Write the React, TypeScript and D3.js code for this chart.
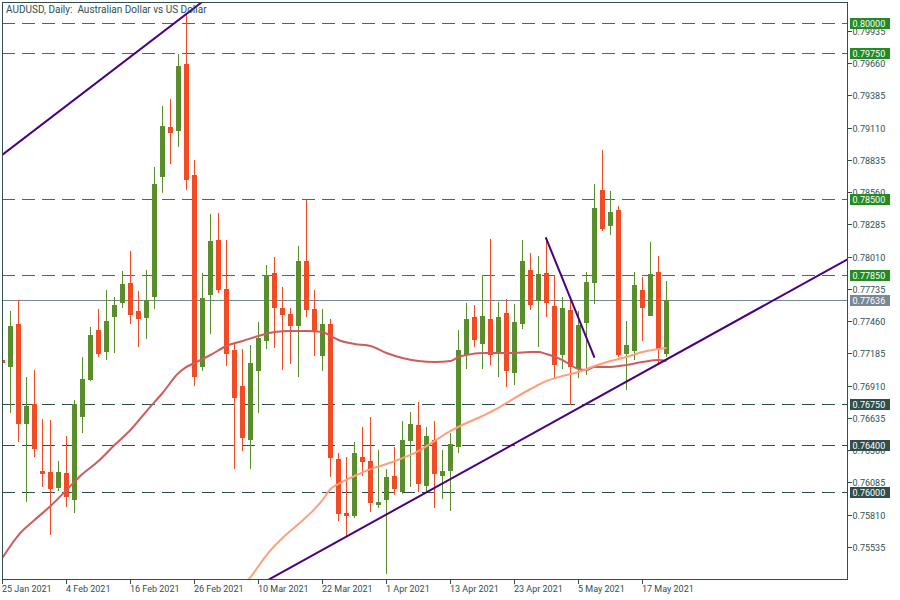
import React from "react";
import * as d3 from "d3";

// ---------- DATA ----------
const title = "AUDUSD, Daily:  Australian Dollar vs US Dollar";

// x tick labels, one every 8 daily bars starting at bar 0
const xTickLabels = [
  "25 Jan 2021", "4 Feb 2021", "16 Feb 2021", "26 Feb 2021", "10 Mar 2021", "22 Mar 2021",
  "1 Apr 2021", "13 Apr 2021", "23 Apr 2021", "5 May 2021", "17 May 2021",
];
const xTickEvery = 8;

const yTickValues = [
  0.75535, 0.7581, 0.76085, 0.7636, 0.76635, 0.7691, 0.77185, 0.7746, 0.77735,
  0.7801, 0.78285, 0.7856, 0.78835, 0.7911, 0.79385, 0.7966, 0.79935,
];

const open = [
  0.77128, 0.77069, 0.77435, 0.76582, 0.76753, 0.76181, 0.76173, 0.76036, 0.76164, 0.75934,
  0.76642, 0.76958, 0.77384, 0.77196, 0.77495, 0.77614, 0.77785, 0.77546, 0.77487, 0.77666,
  0.78689, 0.79116, 0.79082, 0.79653, 0.78706, 0.77069, 0.77683, 0.78152, 0.77734, 0.77214,
  0.76906, 0.76446, 0.77034, 0.7729, 0.7787, 0.77572, 0.77521, 0.77418, 0.77973, 0.77563,
  0.77162, 0.77435, 0.76284, 0.75823, 0.75798, 0.76301, 0.76267, 0.75891, 0.75934, 0.76139,
  0.76002, 0.76437, 0.76574, 0.76053, 0.76446, 0.76139, 0.76181, 0.76386, 0.77171, 0.77495,
  0.77265, 0.77478, 0.77196, 0.77529, 0.77017, 0.77435, 0.77896, 0.77632, 0.7787, 0.77589,
  0.77171, 0.77555, 0.77051, 0.77444, 0.77785, 0.78578, 0.78271, 0.78408, 0.77179, 0.77205,
  0.77725, 0.77504, 0.77879, 0.77179,
];
const high = [
  0.77137, 0.77546, 0.7764, 0.76983, 0.77043, 0.76625, 0.76616, 0.76267, 0.7648, 0.76787,
  0.77154, 0.7741, 0.77563, 0.77725, 0.77666, 0.77887, 0.78058, 0.77717, 0.77896, 0.78775,
  0.79295, 0.79355, 0.79738, 0.80088, 0.78834, 0.7787, 0.78374, 0.78382, 0.78152, 0.77282,
  0.77222, 0.77256, 0.77452, 0.77939, 0.78007, 0.77751, 0.77572, 0.78101, 0.78502, 0.77725,
  0.77563, 0.77478, 0.76335, 0.76301, 0.76429, 0.76557, 0.76642, 0.76361, 0.76198, 0.76386,
  0.76608, 0.76685, 0.7677, 0.76557, 0.76608, 0.76361, 0.76506, 0.77384, 0.77614, 0.77597,
  0.77853, 0.7816, 0.77623, 0.77649, 0.77606, 0.78152, 0.78041, 0.78015, 0.78177, 0.77853,
  0.77666, 0.7764, 0.77546, 0.77879, 0.7863, 0.7892, 0.7857, 0.78442, 0.77461, 0.77879,
  0.77836, 0.78135, 0.78015, 0.77802,
];
const low = [
  0.77094, 0.76676, 0.76429, 0.75917, 0.76301, 0.76045, 0.75635, 0.76011, 0.75874, 0.75823,
  0.76506, 0.76949, 0.77154, 0.77128, 0.77188, 0.77572, 0.77435, 0.77239, 0.77307, 0.77563,
  0.78553, 0.788, 0.78945, 0.78578, 0.76906, 0.77034, 0.7735, 0.777, 0.77077, 0.76198,
  0.76352, 0.76198, 0.76676, 0.77222, 0.77231, 0.77043, 0.77094, 0.76983, 0.77495, 0.77162,
  0.77034, 0.7613, 0.75755, 0.75618, 0.75781, 0.76139, 0.75832, 0.75866, 0.75303, 0.75977,
  0.75985, 0.76045, 0.76002, 0.75994, 0.75866, 0.75943, 0.7584, 0.76335, 0.77051, 0.77239,
  0.77051, 0.77086, 0.76983, 0.76898, 0.76915, 0.77393, 0.77555, 0.77239, 0.77495, 0.76975,
  0.77051, 0.76744, 0.76975, 0.77, 0.77606, 0.78229, 0.78194, 0.77154, 0.76872, 0.77128,
  0.7729, 0.775, 0.77103, 0.77154,
];
const close = [
  0.77103, 0.77418, 0.76582, 0.76736, 0.76369, 0.76156, 0.76028, 0.76173, 0.7596, 0.76753,
  0.76966, 0.77341, 0.77179, 0.77461, 0.77597, 0.77776, 0.77512, 0.77478, 0.7764, 0.7863,
  0.79124, 0.79065, 0.79636, 0.78664, 0.76983, 0.77657, 0.78143, 0.77725, 0.77179, 0.76804,
  0.76463, 0.77103, 0.77316, 0.77853, 0.77572, 0.77512, 0.77418, 0.77973, 0.77555, 0.77367,
  0.77435, 0.76292, 0.75815, 0.75798, 0.76335, 0.76258, 0.75908, 0.75917, 0.7613, 0.76028,
  0.76446, 0.76582, 0.76071, 0.7648, 0.76156, 0.76181, 0.76412, 0.77214, 0.77478, 0.77299,
  0.77504, 0.77171, 0.77495, 0.77034, 0.77452, 0.77973, 0.77597, 0.77862, 0.77614, 0.77086,
  0.77572, 0.77069, 0.77427, 0.77794, 0.78425, 0.78246, 0.78391, 0.77171, 0.77256, 0.77768,
  0.77572, 0.77862, 0.77222, 0.77636,
];

// moving averages (bar index, value)
const ma1Index = [0, 2, 4, 6, 8, 10, 12, 14, 16, 18, 20, 22, 23, 24, 26, 28, 30, 32, 34, 36, 38, 40, 41, 42, 44, 46, 48, 50, 52, 54, 56, 57, 58, 60, 62, 64, 66, 67, 68, 70, 72, 73, 74, 76, 78, 80, 82, 83];
const ma1Values = [
  0.75442, 0.75635, 0.75763, 0.75883, 0.76019, 0.76156, 0.76267, 0.76403, 0.76531, 0.76693,
  0.76847, 0.77017, 0.77069, 0.77103, 0.77171, 0.77248, 0.7729, 0.77333, 0.77367, 0.77376,
  0.77376, 0.77367, 0.77333, 0.77299, 0.77265, 0.77248, 0.77188, 0.77145, 0.7712, 0.77111,
  0.7712, 0.77154, 0.77171, 0.77188, 0.77188, 0.77188, 0.77196, 0.77196, 0.77179, 0.77128,
  0.77051, 0.77043, 0.77069, 0.77069, 0.77086, 0.77111, 0.77128, 0.7712,
];
const ma2Index = [30, 31, 33, 35, 37, 39, 40, 41, 42, 44, 46, 48, 50, 52, 54, 56, 58, 60, 62, 64, 66, 68, 70, 72, 74, 76, 78, 80, 82, 83];
const ma2Values = [
  0.752, 0.75277, 0.75465, 0.7561, 0.75729, 0.75857, 0.75934, 0.76028, 0.76071, 0.76139,
  0.76198, 0.76241, 0.76292, 0.76352, 0.76437, 0.76523, 0.76591, 0.76651, 0.76719, 0.76804,
  0.76881, 0.76949, 0.76992, 0.77026, 0.77077, 0.7712, 0.77154, 0.77196, 0.77222, 0.77231,
];

// trend lines: [barIndex, price] anchors
const trendUpperIdx = [0, 26];
const trendUpperPrice = [0.78879, 0.80237];
const trendSupportIdx = [33, 83]; // ray, extended to the right
const trendSupportPrice = [0.75245, 0.77133];
const trendShortIdx = [67.9, 74];
const trendShortPrice = [0.78175, 0.77149];

// horizontal levels
const greenLevels = [0.8, 0.7975, 0.785, 0.7785];
const darkLevels = [0.7675, 0.764, 0.76];
const bidPrice = 0.77636;

// ---------- STYLE ----------
const W = 900;
const H = 600;
const L = 2;
const R = 847;
const T = 2;
const B = 579;
const frameColor = "#2F4F4F";
const bull = "#5A8E2D";
const bear = "#F24B23";
const font = "Roboto, 'DejaVu Sans', sans-serif";

export default function App() {
  const x = d3.scaleLinear().domain([0, 1]).range([2.5, 10.5]);
  const y = d3.scaleLinear().domain([0.76, 0.8]).range([492.3, 23.3]);
  const crisp = (v: number) => Math.round(v) + 0.5;

  const line = d3
    .line<[number, number]>()
    .x((d) => x(d[0]))
    .y((d) => y(d[1]))
    .curve(d3.curveMonotoneX);
  const straight = d3
    .line<[number, number]>()
    .x((d) => x(d[0]))
    .y((d) => y(d[1]));

  const ma1Path = line(ma1Index.map((d, i) => [d, ma1Values[i]] as [number, number])) || "";
  const ma2Path = line(ma2Index.map((d, i) => [d, ma2Values[i]] as [number, number])) || "";

  const slope = (trendSupportPrice[1] - trendSupportPrice[0]) / (trendSupportIdx[1] - trendSupportIdx[0]);
  const endIdx = x.invert(R + 5);
  const supportPts: [number, number][] = [
    [trendSupportIdx[0], trendSupportPrice[0]],
    [endIdx, trendSupportPrice[0] + slope * (endIdx - trendSupportIdx[0])],
  ];
  const upperPts: [number, number][] = trendUpperIdx.map((d, i) => [d, trendUpperPrice[i]]);
  const shortPts: [number, number][] = trendShortIdx.map((d, i) => [d, trendShortPrice[i]]);

  const labelBox = (v: number, fill: string, key: string) => {
    const cy = y(v);
    return (
      <g key={key}>
        <rect x={850} y={Math.round(cy) - 5} width={40} height={11} fill={fill} />
        <text x={852.5} y={Math.round(cy) + 3.5} fill="#FFFFFF" fontSize={9} fontFamily={font}>
          {v.toFixed(5)}
        </text>
      </g>
    );
  };

  return (
    <svg
      width={W}
      height={H}
      viewBox={`0 0 ${W} ${H}`}
      style={{ position: "absolute", left: 0, top: 0, display: "block", background: "#FFFFFF" }}
    >
      <defs>
        <clipPath id="plotClip">
          <rect x={L} y={T} width={R - L} height={B - T} />
        </clipPath>
      </defs>
      <rect x={0} y={0} width={W} height={H} fill="#FFFFFF" />

      <g clipPath="url(#plotClip)">
        {/* horizontal levels */}
        {greenLevels.map((v, i) => (
          <line
            key={"g" + i}
            x1={L}
            x2={R}
            y1={crisp(y(v))}
            y2={crisp(y(v))}
            stroke="#228B22"
            strokeWidth={1}
            strokeDasharray="13,7"
            shapeRendering="crispEdges"
          />
        ))}
        {darkLevels.map((v, i) => (
          <line
            key={"d" + i}
            x1={L}
            x2={R}
            y1={crisp(y(v))}
            y2={crisp(y(v))}
            stroke="#2F4F4F"
            strokeWidth={1}
            strokeDasharray="13,7"
            shapeRendering="crispEdges"
          />
        ))}
        <line
          x1={L}
          x2={R}
          y1={crisp(y(bidPrice))}
          y2={crisp(y(bidPrice))}
          stroke="#778899"
          strokeWidth={1}
          shapeRendering="crispEdges"
        />

        {/* candles */}
        {open.map((o, i) => {
          const c = close[i];
          const up = c >= o;
          const col = up ? bull : bear;
          const cx = x(i);
          const top = Math.round(y(Math.max(o, c)));
          const bot = Math.round(y(Math.min(o, c)));
          return (
            <g key={"c" + i}>
              <line
                x1={cx}
                x2={cx}
                y1={Math.round(y(high[i]))}
                y2={Math.round(y(low[i]))}
                stroke={col}
                strokeWidth={1}
                shapeRendering="crispEdges"
              />
              <rect
                x={cx - 2.5}
                y={top}
                width={5}
                height={Math.max(2, bot - top)}
                fill={col}
                shapeRendering="crispEdges"
              />
            </g>
          );
        })}

        {/* moving averages */}
        <path d={ma1Path} fill="none" stroke="#CD5C5C" strokeWidth={2} />
        <path d={ma2Path} fill="none" stroke="#FFA07A" strokeWidth={2} />

        {/* trend lines */}
        <path d={straight(upperPts) || ""} fill="none" stroke="#4B0082" strokeWidth={2} />
        <path d={straight(supportPts) || ""} fill="none" stroke="#4B0082" strokeWidth={2} />
        <path d={straight(shortPts) || ""} fill="none" stroke="#4B0082" strokeWidth={2} />
      </g>

      {/* frame */}
      <g stroke={frameColor} strokeWidth={1} shapeRendering="crispEdges">
        <line x1={L + 0.5} x2={L + 0.5} y1={T} y2={B + 1} />
        <line x1={L} x2={R + 1} y1={T + 0.5} y2={T + 0.5} />
        <line x1={R + 0.5} x2={R + 0.5} y1={T} y2={B + 1} />
        <line x1={L} x2={R + 1} y1={B + 0.5} y2={B + 0.5} />
      </g>

      {/* title */}
      <text x={6} y={13} fill={frameColor} fontSize={10} fontFamily={font} xmlSpace="preserve">
        {title}
      </text>

      {/* right axis */}
      {yTickValues.map((v, i) => {
        const cy = Math.round(y(v));
        return (
          <g key={"yt" + i}>
            <line x1={R + 1} x2={R + 5} y1={cy + 0.5} y2={cy + 0.5} stroke={frameColor} shapeRendering="crispEdges" />
            <text x={852.5} y={cy + 4} fill={frameColor} fontSize={9} fontFamily={font}>
              {v.toFixed(5)}
            </text>
          </g>
        );
      })}
      {greenLevels.map((v, i) => labelBox(v, "#228B22", "gb" + i))}
      {darkLevels.map((v, i) => labelBox(v, "#2F4F4F", "db" + i))}
      {labelBox(bidPrice, "#778899", "bid")}

      {/* bottom axis */}
      {xTickLabels.map((lab, i) => {
        const tx = x(i * xTickEvery);
        return (
          <g key={"xt" + i}>
            <line x1={tx} x2={tx} y1={B + 1} y2={B + 5} stroke={frameColor} shapeRendering="crispEdges" />
            <text x={tx - 0.5} y={592} fill={frameColor} fontSize={9} fontFamily={font}>
              {lab}
            </text>
          </g>
        );
      })}
    </svg>
  );
}
